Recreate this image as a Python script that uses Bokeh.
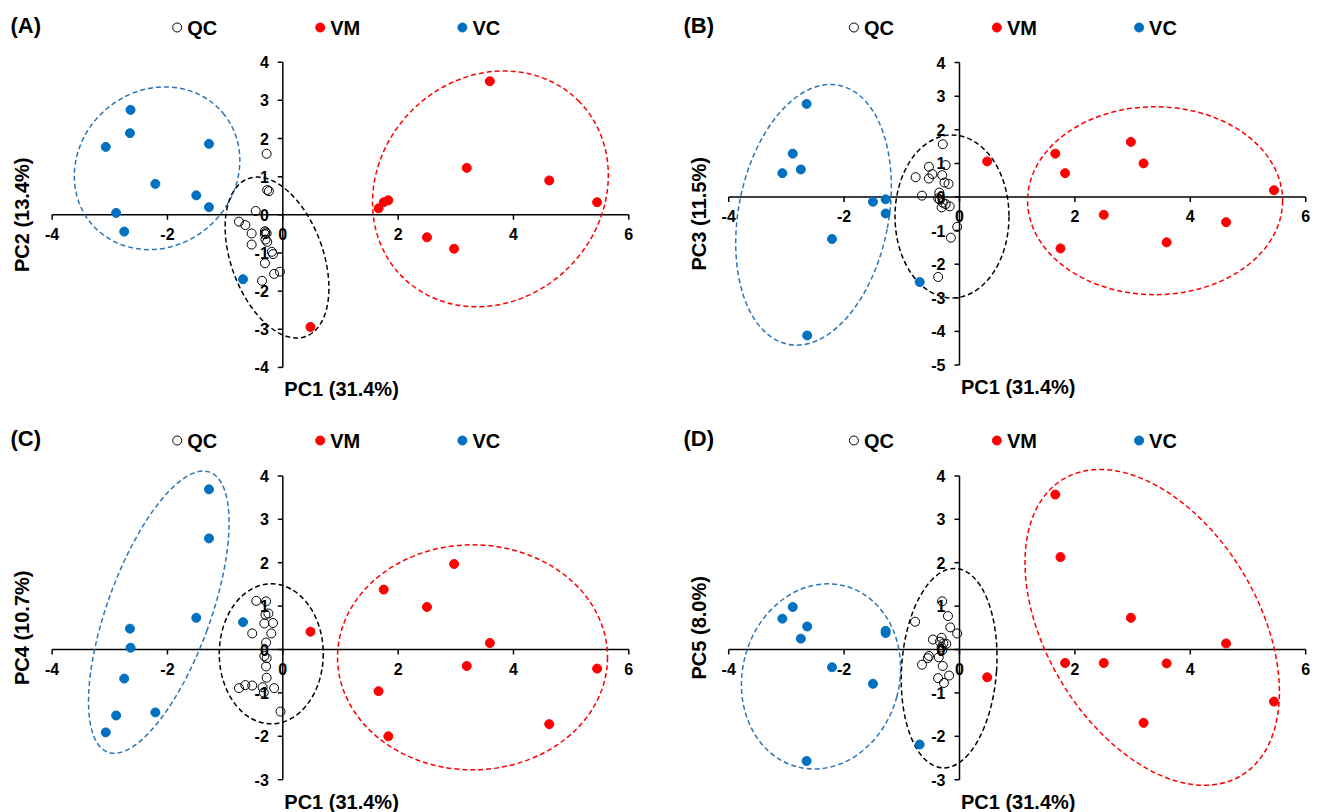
import math
from bokeh.plotting import figure
from bokeh.layouts import row, column
from bokeh.models import Range1d
from bokeh.embed import file_html
from bokeh.resources import INLINE
from bokeh.core.properties import value

FONT = "Liberation Sans"

# ---------------- data (PCA scores) ----------------
legend_labels = ["QC", "VM", "VC"]
x_ticks = [-4, -2, 0, 2, 4, 6]
x_title = "PC1 (31.4%)"

vm_pc1 = [0.48, 1.66, 1.75, 1.83, 2.50, 2.97, 3.19, 3.59, 4.62, 5.45]
vm_pc2 = [-2.94, 0.17, 0.33, 0.38, -0.59, -0.89, 1.23, 3.50, 0.90, 0.33]
vm_pc3 = [1.06, 1.29, -1.53, 0.71, -0.53, 1.64, 1.00, -1.35, -0.75, 0.20]
vm_pc4 = [0.41, -0.96, 1.38, -2.00, 0.98, 1.97, -0.38, 0.15, -1.72, -0.44]
vm_pc5 = [-0.64, 3.57, 2.13, -0.31, -0.31, 0.73, -1.69, -0.32, 0.14, -1.20]

vc_pc1 = [-3.07, -2.89, -2.75, -2.65, -2.64, -2.21, -1.50, -1.28, -1.28, -0.69]
vc_pc2 = [1.78, 0.05, -0.44, 2.14, 2.75, 0.81, 0.51, 1.86, 0.20, -1.69]
vc_pc3 = [0.71, 1.29, 0.82, 2.77, -4.12, -1.25, -0.14, -0.07, -0.49, -2.53]
vc_pc4 = [-1.91, -1.52, -0.67, 0.48, 0.04, -1.45, 0.73, 3.69, 2.56, 0.63]
vc_pc5 = [0.71, 0.98, 0.25, -2.57, 0.53, -0.41, -0.79, 0.43, 0.38, -2.19]

qc_a_pc1 = [-0.28, -0.27, -0.24, -0.47, -0.76, -0.65, -0.54, -0.31, -0.28, -0.30,
            -0.54, -0.19, -0.17, -0.31, -0.15, -0.05, -0.36, -0.31, -0.27, -0.30]
qc_a_pc2 = [1.60, 0.65, 0.62, 0.10, -0.18, -0.27, -0.49, -0.43, -0.49, -0.65,
            -0.78, -0.97, -1.03, -1.27, -1.55, -1.49, -1.73, -0.51, -0.71, -0.46]

qc_b_pc1 = [-0.29, -0.53, -0.24, -0.47, -0.53, -0.76, -0.30, -0.26, -0.19, -0.65,
            -0.35, -0.37, -0.34, -0.29, -0.24, -0.17, -0.31, -0.04, -0.15, -0.37]
qc_b_pc3 = [1.57, 0.90, 0.95, 0.68, 0.55, 0.59, 0.65, 0.43, 0.39, 0.04,
            0.13, -0.04, -0.08, -0.17, -0.21, -0.28, -0.31, -0.89, -1.21, -2.38]

qc_c_pc1 = [-0.46, -0.29, -0.25, -0.30, -0.32, -0.17, -0.53, -0.20, -0.29, -0.32,
            -0.28, -0.29, -0.28, -0.76, -0.65, -0.53, -0.35, -0.15, -0.33, -0.04]
qc_c_pc4 = [1.12, 1.11, 0.83, 0.80, 0.60, 0.61, 0.37, 0.37, 0.16, -0.15,
            -0.20, -0.39, -0.65, -0.89, -0.82, -0.83, -0.87, -0.89, -0.99, -1.43]

qc_d_pc1 = [-0.30, -0.20, -0.77, -0.16, -0.04, -0.46, -0.31, -0.28, -0.23, -0.34,
            -0.30, -0.53, -0.55, -0.65, -0.36, -0.29, -0.37, -0.18, -0.27, -0.31]
qc_d_pc5 = [1.11, 0.77, 0.64, 0.51, 0.37, 0.23, 0.27, 0.14, 0.13, 0.18,
            -0.02, -0.15, -0.20, -0.35, -0.18, -0.38, -0.66, -0.60, -0.77, 0.05]

# confidence ellipses: centre (data), size (px), angle (deg)
ell_a = [(-2.18, 1.22, 172, 156, 40, "blue"), (-0.10, -1.12, 92, 168, 20, "black"),
         (3.60, 0.68, 249, 222, 45, "red")]
ell_b = [(-2.53, -0.53, 150, 264, -11, "blue"), (-0.13, -0.58, 114, 163, 0, "black"),
         (3.39, -0.11, 255, 188, 0, "red")]
ell_c = [(-2.15, 0.86, 103, 298, -20, "blue"), (-0.20, -0.10, 104, 140, 0, "black"),
         (3.29, -0.18, 270, 225, 0, "red")]
ell_d = [(-2.40, -0.62, 157, 187, -15, "blue"), (-0.18, -0.43, 95, 200, -4, "black"),
         (3.34, 0.51, 212, 346, 31, "red")]

RED = "#FF0000"
BLUE = "#0070C0"
ELL_COL = {"blue": "#2E75B6", "black": "#000000", "red": "#FF0000"}

panels = [
    dict(label="(A)", ytitle="PC2 (13.4%)", W=660, H=410, ox=282.3, oy=214.3, sx=57.67, sy=38.15,
         ymin=-4, ymax=4, label_x=10, label_y=25, legend_y=27,
         qc=(qc_a_pc1, qc_a_pc2), vm=(vm_pc1, vm_pc2), vc=(vc_pc1, vc_pc2), ell=ell_a),
    dict(label="(B)", ytitle="PC3 (11.5%)", W=660, H=410, ox=299.0, oy=196.5, sx=57.7, sy=33.6,
         ymin=-5, ymax=4, label_x=23, label_y=25, legend_y=27,
         qc=(qc_b_pc1, qc_b_pc3), vm=(vm_pc1, vm_pc3), vc=(vc_pc1, vc_pc3), ell=ell_b),
    dict(label="(C)", ytitle="PC4 (10.7%)", W=660, H=402, ox=282.3, oy=239.0, sx=57.67, sy=43.4,
         ymin=-3, ymax=4, label_x=10, label_y=28, legend_y=30,
         qc=(qc_c_pc1, qc_c_pc4), vm=(vm_pc1, vm_pc4), vc=(vc_pc1, vc_pc4), ell=ell_c),
    dict(label="(D)", ytitle="PC5 (8.0%)", W=660, H=402, ox=299.0, oy=239.0, sx=57.7, sy=43.4,
         ymin=-3, ymax=4, label_x=23, label_y=28, legend_y=30,
         qc=(qc_d_pc1, qc_d_pc5), vm=(vm_pc1, vm_pc5), vc=(vc_pc1, vc_pc5), ell=ell_d),
]


def txt(p, x, y, t, size, align="center", baseline="middle", angle=0.0):
    p.text(x=x, y=y, text=t, text_font=value(FONT), text_font_style="bold",
           text_font_size=size, text_align=align, text_baseline=baseline,
           text_color="black", angle=angle)


def build(s):
    W, H, ox, oy, sx, sy = s["W"], s["H"], s["ox"], s["oy"], s["sx"], s["sy"]
    X = lambda px: (px - ox) / sx       # local pixel -> data
    Y = lambda py: (oy - py) / sy
    dx = lambda px: px / sx
    dy = lambda py: py / sy

    p = figure(width=W, height=H, x_range=Range1d(X(0), X(W)), y_range=Range1d(Y(H), Y(0)),
               output_backend="svg", toolbar_location=None, tools="",
               x_axis_location=None, y_axis_location=None, min_border=0,
               outline_line_color=None, background_fill_color="white",
               border_fill_color="white")
    p.xgrid.visible = False
    p.ygrid.visible = False

    ymin, ymax = s["ymin"], s["ymax"]
    y_ticks = list(range(ymin, ymax + 1))

    # axes crossing at the origin
    p.segment(x0=[min(x_ticks), 0], y0=[0, ymin], x1=[max(x_ticks), 0], y1=[0, ymax],
              line_color="black", line_width=1.5)
    p.segment(x0=x_ticks, y0=[0] * len(x_ticks), x1=x_ticks, y1=[-dy(5)] * len(x_ticks),
              line_color="black", line_width=1.5)
    p.segment(x0=[0] * len(y_ticks), y0=y_ticks, x1=[-dx(5)] * len(y_ticks), y1=y_ticks,
              line_color="black", line_width=1.5)
    txt(p, x_ticks, [-dy(19)] * len(x_ticks), [str(t) for t in x_ticks], "16px")
    txt(p, [-dx(14)] * len(y_ticks), y_ticks, [str(t) for t in y_ticks], "16px", align="right")

    # axis titles
    txt(p, [dx(1.5)], [ymin - dy(22)], [x_title], "20px", align="left")
    txt(p, [X(ox - 261)], [(ymin + ymax) / 2], [s["ytitle"]], "20px", angle=math.pi / 2)

    # panel label
    txt(p, [X(s["label_x"])], [Y(s["label_y"])], [s["label"]], "22px", align="left")

    # ellipses
    for cx, cy, w, h, ang, c in s["ell"]:
        p.ellipse(x=[cx], y=[cy], width=[w], height=[h], angle=[math.radians(ang)],
                  width_units="screen", height_units="screen", fill_color=None,
                  line_color=ELL_COL[c], line_width=1.5, line_dash="5 3")

    # points
    p.scatter(s["vc"][0], s["vc"][1], size=9, marker="circle", fill_color=BLUE, line_color=BLUE)
    p.scatter(s["vm"][0], s["vm"][1], size=9, marker="circle", fill_color=RED, line_color=RED)
    p.scatter(s["qc"][0], s["qc"][1], size=9, marker="circle", fill_alpha=0,
              line_color="black", line_width=1)

    # legend
    ly = Y(s["legend_y"])
    mx = [X(ox - 105.6), X(ox + 37.4), X(ox + 179.6)]
    p.scatter([mx[0]], [ly], size=9, marker="circle", fill_alpha=0, line_color="black", line_width=1)
    p.scatter([mx[1]], [ly], size=9, marker="circle", fill_color=RED, line_color=RED)
    p.scatter([mx[2]], [ly], size=9, marker="circle", fill_color=BLUE, line_color=BLUE)
    txt(p, [m + dx(10) for m in mx], [ly] * 3, legend_labels, "20px", align="left")
    return p


figs = [build(s) for s in panels]
layout = column(row(figs[0], figs[1]), row(figs[2], figs[3]))

open("out.html", "w").write(file_html(layout, INLINE))
